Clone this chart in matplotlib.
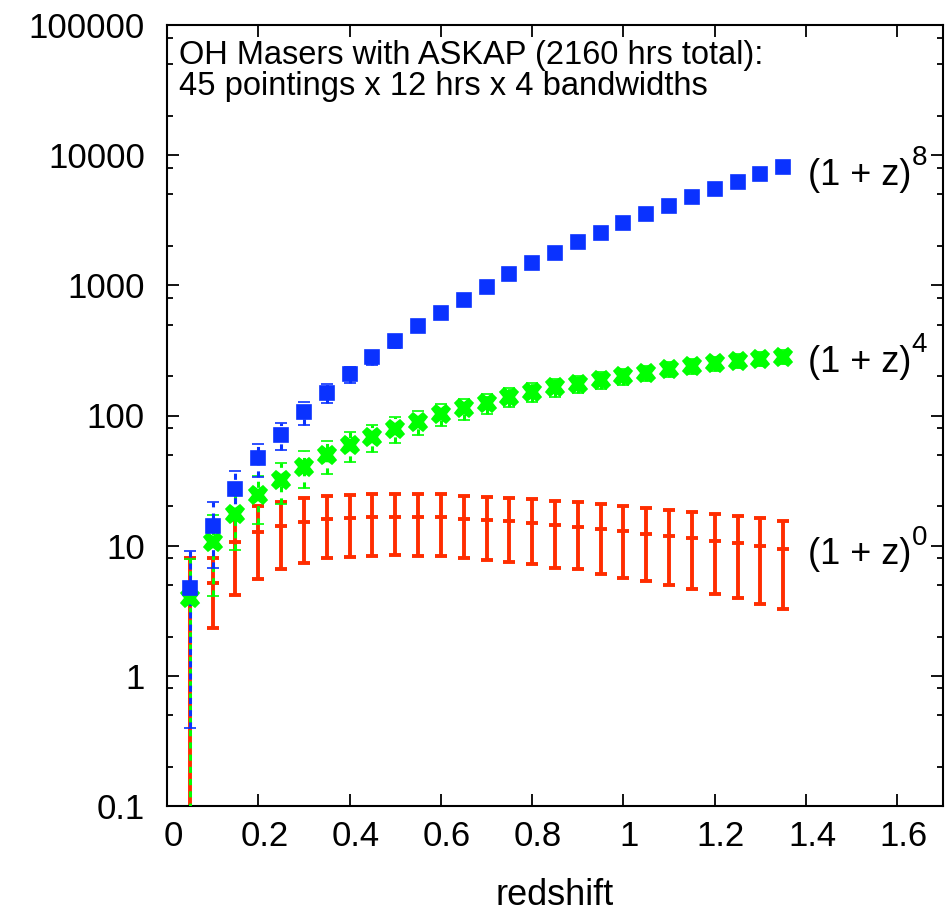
import numpy as np
import matplotlib
matplotlib.use("Agg")
import matplotlib.pyplot as plt
import matplotlib.transforms as mtransforms
from matplotlib.ticker import LogLocator, FixedLocator, NullFormatter

plt.rcParams['font.family'] = ['Liberation Sans', 'DejaVu Sans']

# redshift bins
z = [0.05, 0.10, 0.15, 0.20, 0.25, 0.30, 0.35, 0.40, 0.45, 0.50, 0.55, 0.60, 0.65, 0.70,
     0.75, 0.80, 0.85, 0.90, 0.95, 1.00, 1.05, 1.10, 1.15, 1.20, 1.25, 1.30, 1.35]

# (1+z)^0 : counts with lower / upper error bounds
n0 = [4.0, 5.2, 10.7, 12.7, 14.1, 15.3, 15.9, 16.4, 16.5, 16.7, 16.5, 16.5, 16.1, 15.7,
      15.4, 14.9, 14.4, 14.0, 13.4, 12.9, 12.4, 11.9, 11.4, 10.9, 10.4, 9.9, 9.4]
n0_lo = [0.0, 2.32, 4.15, 5.54, 6.58, 7.39, 7.99, 8.22, 8.36, 8.47, 8.36, 8.27, 8.07, 7.79,
         7.44, 7.19, 6.77, 6.58, 6.05, 5.67, 5.35, 4.96, 4.64, 4.25, 3.96, 3.56, 3.24]
n0_hi = [8.0, 8.03, 17.3, 20.1, 21.7, 23.2, 24.0, 24.6, 24.9, 24.9, 24.8, 24.8, 24.2, 23.8,
         23.2, 22.7, 22.0, 21.5, 20.9, 20.3, 19.6, 18.9, 18.2, 17.5, 16.9, 16.2, 15.5]

# (1+z)^4
n4 = [3.94, 10.6, 17.6, 24.5, 32.2, 40.5, 49.6, 59.8, 68.6, 79.1, 89.5, 103.1, 113.4, 124.5,
      139.2, 152.1, 164.4, 174.3, 187.0, 200.8, 212.8, 226.0, 239.5, 251.3, 263.1, 272.6, 282.4]
n4_err = [3.9, 6.5, 8.4, 9.9, 11.3, 12.7, 14.1, 15.5, 16.6, 17.8, 18.9, 20.3, 21.3, 22.3,
          23.6, 24.7, 25.6, 26.4, 27.3, 28.3, 29.2, 30.1, 31.0, 31.7, 32.4, 33.0, 33.6]

# (1+z)^8
n8 = [4.75, 14.2, 27.3, 47.1, 71.3, 105.6, 149.9, 206.9, 279.4, 370.8, 486, 615, 770, 974,
      1213, 1473, 1777, 2136, 2531, 2988, 3524, 4080, 4733, 5482, 6236, 7108, 8087]
n8_err = [4.35, 7.5, 10.4, 13.7, 16.9, 20.6, 24.5, 28.8, 33.4, 38.5, 44, 50, 55, 62,
          70, 77, 84, 92, 100, 109, 119, 128, 138, 148, 158, 169, 180]

xticks = [0, 0.2, 0.4, 0.6, 0.8, 1.0, 1.2, 1.4, 1.6]
xtick_labels = ['0', '0.2', '0.4', '0.6', '0.8', '1', '1.2', '1.4', '1.6']
yticks = [0.1, 1, 10, 100, 1000, 10000, 100000]
ytick_labels = ['0.1', '1', '10', '100', '1000', '10000', '100000']

red = '#ff2d00'
green = '#00ff00'
blue = '#0a32ff'

fig = plt.figure(figsize=(9.53, 9.16), dpi=100)
ax = fig.add_axes([167/953, 110/916, 776/953, 781/916])
ax.set_yscale('log')

n0a = np.array(n0)
yerr0 = [n0a - np.array(n0_lo), np.array(n0_hi) - n0a]
ax.errorbar(z, n0, yerr=yerr0, fmt='_', color=red, ms=9, mew=2.8,
            elinewidth=2.8, capsize=4.5, capthick=3.0, zorder=2)

# green and blue have dashed bars
for vals, errs, col, mk, ms in [(n4, n4_err, green, 'X', 13.5), (n8, n8_err, blue, 's', 10)]:
    eb = ax.errorbar(z, vals, yerr=errs, fmt=mk, color=col, ms=ms, mec=col, mew=1.2,
                     elinewidth=2.2, capsize=4, capthick=2.2, zorder=3)
    eb[2][0].set_linestyle((0, (2, 2)))

ax.set_xlim(0, 1.7)
ax.set_ylim(0.1, 100000)
ax.xaxis.set_major_locator(FixedLocator(xticks))
ax.set_xticklabels(xtick_labels)
ax.yaxis.set_major_locator(FixedLocator(yticks))
ax.set_yticklabels(ytick_labels)
ax.yaxis.set_minor_locator(LogLocator(base=10, subs=[2, 5, 8], numticks=20))
ax.yaxis.set_minor_formatter(NullFormatter())

ax.tick_params(which='both', direction='in', top=True, right=True, width=1.3, labelsize=25)
ax.tick_params(which='major', length=8.6)
ax.tick_params(which='minor', length=4.3)
ax.tick_params(axis='y', pad=16)
ax.tick_params(axis='x', pad=10)
for s in ax.spines.values():
    s.set_linewidth(1.5)

# gnuplot puts the x labels a little to the right of the ticks
shift = mtransforms.ScaledTranslation(6/100, 0, fig.dpi_scale_trans)
for lab in ax.get_xticklabels():
    lab.set_transform(lab.get_transform() + shift)

ax.set_xlabel('redshift', fontsize=26, labelpad=18)

ax.text(0.016, 0.95, 'OH Masers with ASKAP (2160 hrs total):', transform=ax.transAxes,
        fontsize=23.5, va='baseline', ha='left')
ax.text(0.016, 0.91, '45 pointings x 12 hrs x 4 bandwidths', transform=ax.transAxes,
        fontsize=23.5, va='baseline', ha='left')

for yv, p in [(7000, '8'), (257, '4'), (8.5, '0')]:
    t = ax.text(1.405, yv, '(1 + z)', fontsize=26, va='center', ha='left')
    ax.annotate(p, xy=(1, 0.62), xycoords=t, fontsize=20, va='bottom', ha='left')

fig.savefig('out.png', dpi=100)
